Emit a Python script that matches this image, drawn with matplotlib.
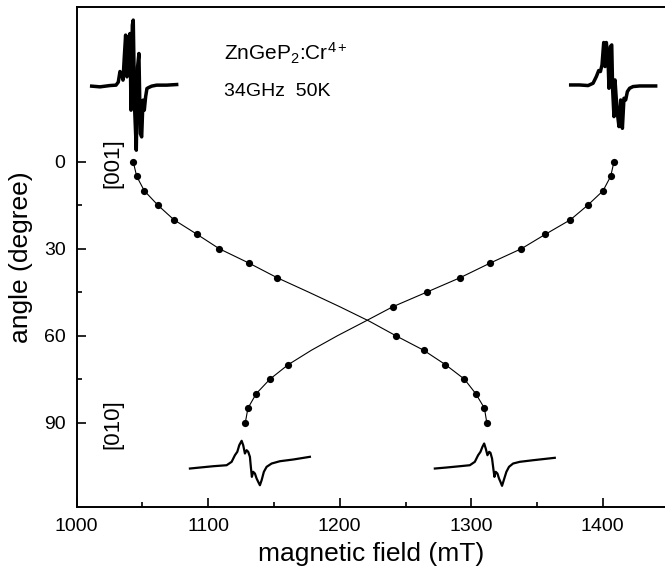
import numpy as np
import matplotlib
matplotlib.use("Agg")
import matplotlib.pyplot as plt
from matplotlib.ticker import FixedLocator

plt.rcParams['font.family'] = ['Liberation Sans', 'DejaVu Sans']
plt.rcParams['mathtext.default'] = 'regular'

# ---------------- data ----------------
# angular dependence: measured points (angle in degree, field in mT)
low_ang = [0, 5, 10, 15, 20, 25, 30, 35, 40, 60, 65, 70, 75, 80, 85, 90]
low_fld = [1043.0, 1045.6, 1051.4, 1061.8, 1073.9, 1091.4, 1108.4, 1131.2, 1152.4,
           1242.6, 1263.7, 1280.4, 1294.8, 1303.4, 1310.0, 1311.8]
high_ang = [0, 5, 10, 15, 20, 25, 30, 35, 40, 45, 50, 70, 75, 80, 85, 90]
high_fld = [1408.5, 1406.0, 1400.2, 1388.5, 1375.4, 1356.4, 1338.1, 1314.1, 1291.5,
            1266.0, 1240.4, 1160.8, 1146.9, 1136.5, 1130.2, 1128.2]

# fitted curves
line_ang = [0, 5, 10, 15, 20, 25, 30, 35, 40, 45, 50, 55, 60, 65, 70, 75, 80, 85, 90]
low_line = [1043.0, 1045.6, 1051.4, 1061.8, 1073.9, 1091.4, 1108.4, 1131.2, 1152.4,
            1176.5, 1200.0, 1222.5, 1242.6, 1263.7, 1280.4, 1294.8, 1303.4, 1310.0, 1311.8]
high_line = [1408.5, 1406.0, 1400.2, 1388.5, 1375.4, 1356.4, 1338.1, 1314.1, 1291.5,
             1266.0, 1240.4, 1219.5, 1198.3, 1178.5, 1160.8, 1146.9, 1136.5, 1130.2, 1128.2]

# EPR spectra (field in mT, signal in arbitrary units)
spec0L_f = [1011.4, 1017.7, 1025.3, 1029.9, 1031.6, 1032.9, 1034.2, 1035.2, 1036.2, 1037.2,
            1038.2, 1039.5, 1040.5, 1041.3, 1042.3, 1043.0, 1044.1, 1045.3, 1046.3, 1047.3,
            1048.4, 1049.4, 1050.4, 1051.4, 1052.4, 1053.4, 1054.7, 1057.0, 1060.8, 1068.4, 1076.0]
spec0L_s = [-0.3, -1.0, 0.3, 0.7, 3.7, 14.3, 11.7, 5.7, 29.0, 50.7,
            9.0, 47.3, 52.3, -24.3, 60.7, 65.7, -24.3, -64.3, 19.0, 32.3,
            -47.7, -51.0, -14.3, -24.3, -11.0, -2.7, -1.7, -0.3, 0.7, 0.7, 1.3]

spec0H_f = [1375.6, 1382.4, 1388.8, 1392.6, 1395.1, 1396.9, 1398.2, 1399.4, 1400.7, 1401.7,
            1402.7, 1404.0, 1404.7, 1405.8, 1406.8, 1407.5, 1408.5, 1409.3, 1410.8, 1412.3,
            1413.6, 1414.9, 1416.1, 1417.4, 1418.7, 1420.4, 1423.0, 1428.0, 1440.2]
spec0H_s = [0.3, 0.3, -0.3, 2.0, 8.7, 14.7, 13.7, 20.3, 42.7, 18.7,
            42.7, 25.3, -3.0, 38.7, 40.3, -4.7, -31.3, 5.3, -24.7, -41.3,
            -14.7, -43.0, -13.0, -14.7, -6.3, -3.0, -1.3, -0.7, -0.7]

spec90L_f = [1086.1, 1093.7, 1103.8, 1114.0, 1117.8, 1120.3, 1122.1, 1123.6, 1125.4, 1126.6,
             1127.9, 1129.2, 1130.4, 1131.7, 1132.4, 1133.2, 1134.2, 1135.5, 1136.8, 1138.0,
             1139.3, 1140.6, 1142.3, 1144.4, 1148.2, 1154.5, 1164.6, 1177.3]
spec90L_s = [-5.0, -4.0, -2.7, -1.7, 1.7, 8.3, 11.7, 18.3, 22.7, 18.3,
             10.0, 13.3, 11.7, 6.7, -3.3, -13.3, -8.3, -10.0, -15.0, -18.3,
             -21.7, -16.7, -8.3, -3.3, 0.0, 2.3, 4.0, 6.7]

spec90H_f = [1272.3, 1281.1, 1291.3, 1298.9, 1302.7, 1305.2, 1307.0, 1308.5, 1309.8, 1311.0,
             1312.3, 1313.6, 1314.6, 1315.8, 1316.6, 1317.6, 1318.6, 1319.9, 1321.1, 1322.2,
             1323.4, 1324.7, 1326.7, 1328.7, 1331.8, 1336.9, 1347.0, 1363.5]
spec90H_s = [-5.0, -4.0, -2.7, -1.7, 1.7, 8.3, 11.7, 16.7, 20.0, 15.0,
             8.3, 11.7, 10.7, 5.0, -3.3, -13.3, -8.3, -10.0, -15.0, -18.3,
             -22.3, -16.7, -8.3, -3.3, 0.0, 1.7, 3.3, 5.7]

x_major = [1000, 1100, 1200, 1300, 1400]
y_major = [0, 30, 60, 90]

# ---------------- figure ----------------
W, H = 665, 578
fig = plt.figure(figsize=(W / 100, H / 100), dpi=100)
ax = fig.add_axes([76.7 / W, 71 / H, (W - 76.7) / W, 500 / H])

ax.set_xlim(1000, 1447.3)
ax.set_ylim(119.1, -53.4)

lw_line = 0.8
ax.plot(low_line, line_ang, color='black', lw=lw_line)
ax.plot(high_line, line_ang, color='black', lw=lw_line)
ax.plot(low_fld, low_ang, 'o', color='black', ms=5.2, mew=0)
ax.plot(high_fld, high_ang, 'o', color='black', ms=5.2, mew=0)

scale = 1 / 2.896  # degree per signal unit
spectra = [
    (spec0L_f, spec0L_s, -26.2, 2.5),
    (spec0H_f, spec0H_s, -26.4, 2.5),
    (spec90L_f, spec90L_s, 104.1, 1.6),
    (spec90H_f, spec90H_s, 104.1, 1.6),
]
for f, s, base, lw in spectra:
    ax.plot(f, base - np.array(s) * scale, color='black', lw=lw, solid_joinstyle='round')

# ticks and spines
for side in ['left', 'bottom', 'top']:
    ax.spines[side].set_linewidth(1.4)
ax.spines['right'].set_visible(False)
ax.xaxis.set_major_locator(FixedLocator(x_major))
ax.xaxis.set_minor_locator(FixedLocator([1050, 1150, 1250, 1350]))
ax.yaxis.set_major_locator(FixedLocator(y_major))
ax.yaxis.set_minor_locator(FixedLocator([15, 45, 75]))
ax.tick_params(which='both', direction='in', top=False, right=False, width=1.2)
ax.tick_params(which='major', length=6.5, labelsize=14, pad=8)
ax.tick_params(which='minor', length=3.5)

ax.set_xlabel('magnetic field (mT)', fontsize=19, labelpad=5)
ax.set_ylabel('angle (degree)', fontsize=19, labelpad=8)

# annotations
ax.text(1112, -37.5, r'ZnGeP$_2$:Cr$^{4+}$', fontsize=15, va='center', ha='left')
ax.text(1112, -24.3, '34GHz  50K', fontsize=14, va='center', ha='left')
ax.text(1027.5, 0.5, '[001]', fontsize=16, rotation=90, va='center', ha='center')
ax.text(1027.5, 90.5, '[010]', fontsize=16, rotation=90, va='center', ha='center')

fig.savefig('out.png', dpi=100)
